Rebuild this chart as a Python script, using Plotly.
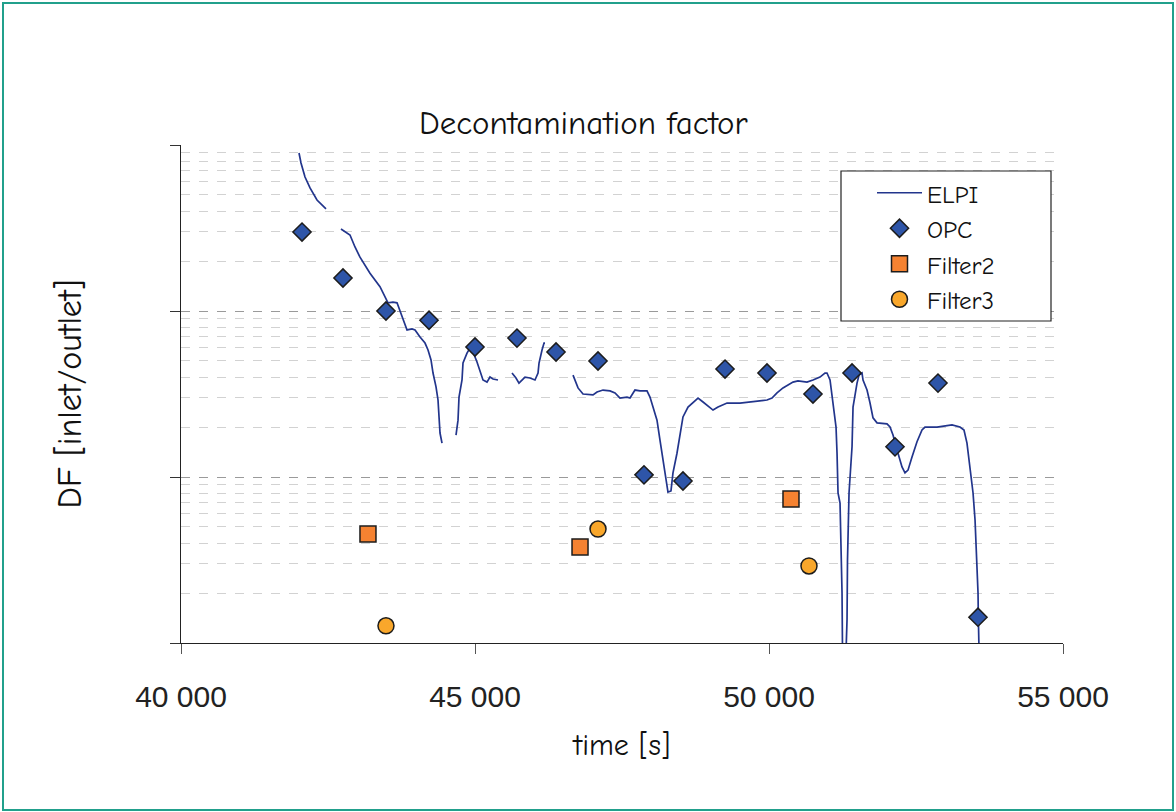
import plotly.graph_objects as go

# ---------------- data ----------------
# ELPI continuous record (None = gap in the record)
elpi_t = [42007, 42041, 42109, 42194, 42313, 42466, None,
          42721, 42874, 42959, 43044, 43214, 43384, 43520, 43605, 43674, 43759, 43844, 43929,
          43980, 44065, 44150, 44201, 44252, 44286, 44337, 44371, 44388, 44405, 44439, None,
          44677, 44711, 44728, 44779, 44796, 44864, 44915, 44966, 45034, 45085, 45136, 45204,
          45255, 45306, 45391, None,
          45629, 45697, 45748, 45799, 45850, 45935, 46020, 46072, 46089, 46140, 46174, 46191, None,
          46667, 46701, 46752, 46837, 47007, 47075, 47177, 47296, 47381, 47466, 47585, 47636,
          47721, 47806, 47925, 47976, 48027, 48095, 48146, 48197, 48248, 48282, 48333, 48367,
          48435, 48486, 48537, 48623, 48708, 48793, 48878, 48997, 49048, 49133, 49286, 49507,
          49677, 49847, 49966, 50051, 50136, 50238, 50408, 50493, 50646, 50748, 50867, 50952,
          50986, 51038, 51072, 51106, 51140, 51157, 51174, 51208, 51225, 51242, 51250, 51310,
          51327, 51335, 51361, 51395, 51412, 51429, 51463, 51497, 51531, 51582, 51599, 51667,
          51718, 51769, 51837, 52007, 52058, 52109, 52194, 52262, 52313, 52364, 52432, 52517,
          52602, 52653, 52857, 53044, 53112, 53248, 53316, 53367, 53419, 53470, 53504, 53538,
          53555, 53560, 53572]
elpi_df = [895, 779, 641, 551, 466, 412, None,
           312, 287, 243, 211, 169, 140, 112, 113, 112, 92, 76.9, 78,
           76.9, 69.7, 64.1, 58.2, 50.7, 42.3, 34.9, 29.1, 23.0, 18.4, 16.0, None,
           17.9, 22.0, 30.3, 38.4, 48.6, 55.8, 59.8, 56.6, 49.3, 44.1, 38.4, 37.3,
           40.0, 38.9, 38.4, None,
           42.3, 39.5, 36.8, 38.4, 40.0, 39.5, 38.4, 42.3, 48.6, 58.2, 64.1, 64.1, None,
           41.1, 38.4, 34.4, 31.6, 31.2, 32.5, 33.4, 33.0, 32.1, 29.9, 30.3, 29.9,
           33.4, 33.0, 33.0, 30.3, 26.4, 22.0, 16.7, 12.7, 9.20, 8.12, 8.24, 10.6,
           13.9, 18.4, 23.0, 26.4, 28.3, 29.9, 28.3, 26.0, 25.3, 26.4, 27.9, 27.9,
           28.3, 28.7, 29.1, 29.9, 32.1, 34.4, 37.3, 37.9, 37.3, 38.4, 40.0, 42.3,
           42.3, 38.4, 30.3, 25.3, 20.0, 13.9, 8.01, 6.97, 4.00, 2.00, 0.907, 0.883,
           1.38, 3.16, 8.01, 12.7, 15.2, 26.4, 32.1, 36.8, 41.1, 42.3, 38.4, 33.4,
           27.9, 22.7, 21.2, 20.9, 20.0, 17.9, 13.9, 11.5, 10.6, 11.0, 13.2, 16.3,
           19.2, 20.0, 20.0, 20.3, 20.6, 20.0, 19.2, 16.0, 11.0, 8.01, 5.51, 3.16,
           2.00, 1.43, 0.907]

opc_t = [42058, 42755, 43486, 44218, 45000, 45714, 46378, 47092, 47874, 48537,
         49252, 49966, 50748, 51412, 52143, 52874, 53554]
opc_df = [299, 158, 100, 88, 60.7, 68.7, 56.6, 50, 10.3, 9.46,
          44.7, 42.3, 31.6, 42.3, 15.2, 36.8, 1.43]

filter2_t = [43180, 46786, 50374]
filter2_df = [4.53, 3.79, 7.37]

filter3_t = [43486, 47092, 50680]
filter3_df = [1.27, 4.86, 2.91]

x_tickvals = [40000, 45000, 50000, 55000]
x_ticktext = ["40 000", "45 000", "50 000", "55 000"]

# ---------------- figure ----------------
COMIC = "Comic Sans MS, Comic Neue, Noto Sans, sans-serif"

fig = go.Figure()
fig.add_trace(go.Scatter(x=elpi_t, y=elpi_df, mode="lines", name="ELPI",
                         line=dict(color="#22358c", width=1.7), connectgaps=False))
fig.add_trace(go.Scatter(x=opc_t, y=opc_df, mode="markers", name="OPC",
                         marker=dict(symbol="diamond", size=14, color="#2e55a8",
                                     line=dict(color="#1c1c1c", width=1.5))))
fig.add_trace(go.Scatter(x=filter2_t, y=filter2_df, mode="markers", name="Filter2",
                         marker=dict(symbol="square", size=16, color="#f58231",
                                     line=dict(color="#1c1c1c", width=1.5))))
fig.add_trace(go.Scatter(x=filter3_t, y=filter3_df, mode="markers", name="Filter3",
                         marker=dict(symbol="circle", size=16, color="#f9a72b",
                                     line=dict(color="#1c1c1c", width=1.5))))

L, R, T, B = 181, 113, 145, 169
W, H = 1176, 812
pw, ph = W - L - R, H - T - B


def px_x(px):
    return (px - L) / pw


def px_y(py):
    return (H - B - py) / ph


fig.update_layout(
    width=W, height=H,
    margin=dict(l=L, r=R, t=T, b=B, autoexpand=False),
    paper_bgcolor="white", plot_bgcolor="white",
    title=dict(text="Decontamination factor", x=0.496, xref="container", xanchor="center",
               y=1 - 122 / H, yref="container", yanchor="middle",
               font=dict(family=COMIC, size=33, color="#111")),
    xaxis=dict(range=[40000, 55000], tickvals=x_tickvals, ticktext=x_ticktext,
               showgrid=False, zeroline=False,
               showline=True, linecolor="#222", linewidth=1.2,
               ticks="outside", ticklen=10, tickcolor="#555", tickwidth=1,
               ticklabelstandoff=17,
               tickfont=dict(family="Liberation Sans, Arial", size=30, color="#222"),
               title=dict(text="time [s]", standoff=21,
                          font=dict(family=COMIC, size=30, color="#111"))),
    yaxis=dict(type="log", range=[0, 3], dtick=1, showticklabels=False,
               showline=True, linecolor="#222", linewidth=1.2,
               ticks="outside", ticklen=10, tickcolor="#333",
               zeroline=False,
               showgrid=True, gridcolor="#9a9a9a", griddash="dash", gridwidth=1,
               minor=dict(dtick="D1", showgrid=True, gridcolor="#d2d2d2",
                          griddash="dash", gridwidth=1, ticks=""),
               title=dict(text="DF [inlet/outlet]", standoff=78,
                          font=dict(family=COMIC, size=34, color="#111"))),
    legend=dict(x=px_x(872), y=px_y(170), xanchor="left", yanchor="top",
                bgcolor="rgba(0,0,0,0)", borderwidth=0,
                font=dict(family=COMIC, size=25, color="#111"),
                itemwidth=45, tracegroupgap=0),
    showlegend=True,
)

# legend frame
fig.add_shape(type="rect", xref="paper", yref="paper",
              x0=px_x(841), x1=px_x(1051), y0=px_y(321), y1=px_y(171),
              line=dict(color="#222", width=1.2), fillcolor="white", layer="above")

# outer teal frame of the chart area
fig.add_shape(type="rect", xref="paper", yref="paper",
              x0=px_x(3), x1=px_x(1173), y0=px_y(810), y1=px_y(3),
              line=dict(color="#21a08c", width=2), fillcolor="rgba(0,0,0,0)", layer="below")

fig.write_html("out.html")
